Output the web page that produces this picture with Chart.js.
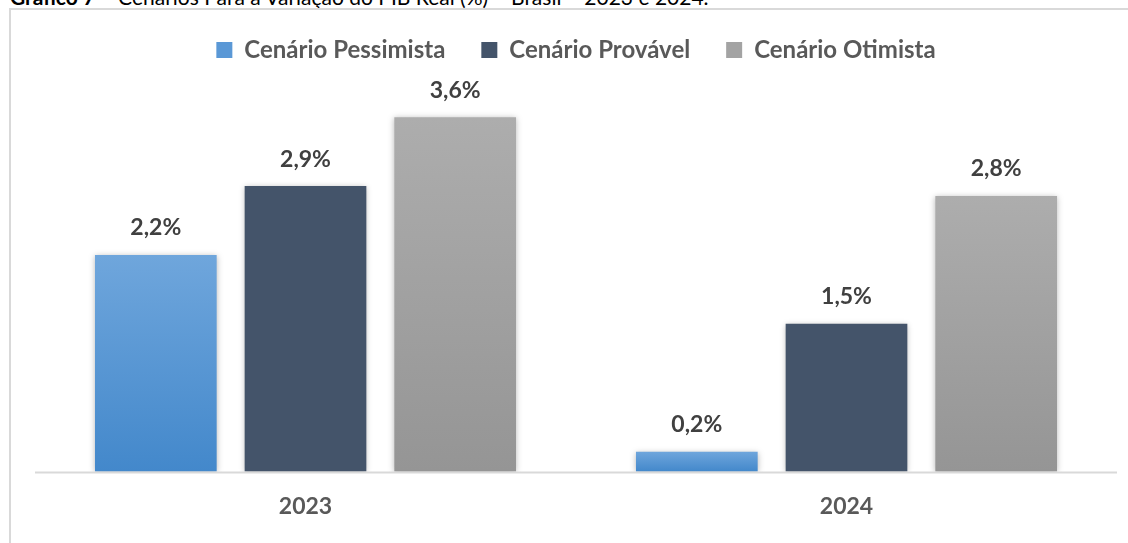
<!DOCTYPE html>
<html>
<head>
<meta charset="utf-8">
<script src="https://cdn.jsdelivr.net/npm/chart.js@4"></script>
<style>
  html, body { margin: 0; padding: 0; background: #fff; overflow: hidden; }
  #wrap { position: relative; width: 1128px; height: 543px; overflow: hidden; }
  #titulo { position: absolute; left: 10px; top: -14px; font-family: Lato, sans-serif; font-size: 21px; line-height: 22px; color: #000; white-space: nowrap; }
  #moldura { position: absolute; left: 9px; top: 8px; width: 1130px; height: 560px; border: 2px solid #d9d9d9; box-sizing: border-box; }
  canvas { position: absolute; left: 0; top: 0; }
</style>
</head>
<body>
<div id="wrap">
  <div id="titulo"><b>Gráfico 7</b> – Cenários Para a Variação do PIB Real (%) – Brasil – 2023 e 2024.</div>
  <div id="moldura"></div>
  <canvas id="grafico" width="1128" height="543"></canvas>
</div>
<script>
// dados
var anos = ['2023', '2024'];
var pessimista = [2.2, 0.2];
var provavel = [2.9, 1.5];
var otimista = [3.6, 2.8];

// gradiente vertical por barra
function gradBar(c1, c2) {
  return function(ctx) {
    var chart = ctx.chart;
    if (!chart.chartArea || ctx.type !== 'data') return c2;
    var y = chart.scales.y;
    var top = y.getPixelForValue(ctx.raw);
    var base = y.getPixelForValue(0);
    if (!(top < base)) return c2;
    var g = chart.ctx.createLinearGradient(0, top, 0, base);
    g.addColorStop(0, c1);
    g.addColorStop(1, c2);
    return g;
  };
}

// linha do eixo + sombra suave nas barras
var sombra = {
  id: 'sombra',
  beforeDatasetsDraw: function(chart) {
    var c = chart.ctx, a = chart.chartArea;
    var y0 = chart.scales.y.getPixelForValue(0);
    c.save();
    c.strokeStyle = '#d9d9d9';
    c.lineWidth = 2;
    c.beginPath();
    c.moveTo(a.left, y0 + 1);
    c.lineTo(a.right, y0 + 1);
    c.stroke();
    c.restore();
  },
  beforeDatasetDraw: function(chart) {
    var c = chart.ctx;
    c.save();
    c.shadowColor = 'rgba(0,0,0,0.28)';
    c.shadowBlur = 6;
    c.shadowOffsetX = 0;
    c.shadowOffsetY = 1;
  },
  afterDatasetDraw: function(chart) {
    chart.ctx.restore();
  }
};

// rotulos em cima das barras
var rotulos = {
  id: 'rotulos',
  afterDatasetsDraw: function(chart) {
    var c = chart.ctx;
    c.save();
    c.font = 'bold 23px Lato, sans-serif';
    c.fillStyle = '#404040';
    c.textAlign = 'center';
    c.textBaseline = 'middle';
    chart.data.datasets.forEach(function(ds, i) {
      chart.getDatasetMeta(i).data.forEach(function(bar, j) {
        c.fillText(ds.data[j].toFixed(1).replace('.', ',') + '%', bar.x, bar.y - 27);
      });
    });
    c.restore();
  }
};

var ctx = document.getElementById('grafico').getContext('2d');
var myChart = new Chart(ctx, {
  type: 'bar',
  data: {
    labels: anos,
    datasets: [
      { label: 'Cenário Pessimista', data: pessimista, backgroundColor: gradBar('#6fa6dc', '#4388cb') },
      { label: 'Cenário Provável', data: provavel, backgroundColor: '#44546a' },
      { label: 'Cenário Otimista', data: otimista, backgroundColor: gradBar('#adadad', '#959595') }
    ]
  },
  plugins: [sombra, rotulos],
  options: {
    responsive: false,
    animation: false,
    categoryPercentage: 0.83,
    barPercentage: 0.813,
    layout: { padding: { left: 35, right: 11, top: 2, bottom: 2 } },
    plugins: {
      tooltip: { enabled: false },
      legend: {
        position: 'top',
        labels: {
          font: { family: 'Lato, sans-serif', size: 24, weight: 'bold' },
          color: '#595959',
          boxWidth: 16,
          boxHeight: 16,
          padding: 36,
          generateLabels: function(chart) {
            var cores = ['#5a98d6', '#44546a', '#a3a3a3'];
            return chart.data.datasets.map(function(ds, i) {
              return { text: ds.label, fillStyle: cores[i], strokeStyle: cores[i], lineWidth: 0, datasetIndex: i, fontColor: '#595959' };
            });
          }
        }
      }
    },
    scales: {
      x: {
        grid: { display: false, drawTicks: false },
        border: { display: false },
        ticks: { font: { family: 'Lato, sans-serif', size: 23, weight: 'bold' }, color: '#595959', padding: 21 }
      },
      y: {
        display: false,
        min: 0,
        max: 4.06
      }
    }
  }
});
</script>
</body>
</html>
